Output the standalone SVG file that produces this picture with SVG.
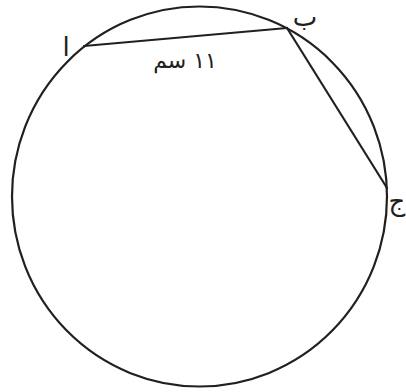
<svg xmlns="http://www.w3.org/2000/svg" width="406" height="392" viewBox="0 0 406 392">
<style>
.shape{fill:none;stroke:#231f20;stroke-width:2.2}
.edge{fill:none;stroke:#231f20;stroke-width:2.2;stroke-linecap:round}
.lbl{font-family:"DejaVu Sans","Noto Sans",sans-serif;font-size:26px;fill:#231f20}
.dim{font-family:"DejaVu Sans","Noto Sans",sans-serif;font-size:22px;fill:#231f20}
</style>
<rect width="406" height="392" fill="#ffffff"/>
<g id="circle">
<ellipse class="shape" cx="199.5" cy="196.5" rx="187.5" ry="190"/>
</g>
<g id="connectors">
<line class="edge" x1="84" y1="46" x2="287" y2="28"/>
<line class="edge" x1="287" y1="28" x2="387" y2="188"/>
</g>
<g id="node-a">
<text class="lbl" x="66" y="56" text-anchor="middle">ا</text>
</g>
<g id="node-b">
<text class="lbl" x="305" y="26" text-anchor="middle">ب</text>
</g>
<g id="node-c">
<text class="lbl" x="397" y="210" text-anchor="middle">ج</text>
</g>
<g id="label-ab">
<text class="dim" x="185" y="68" text-anchor="middle" direction="rtl">١١ سم</text>
</g>
</svg>
